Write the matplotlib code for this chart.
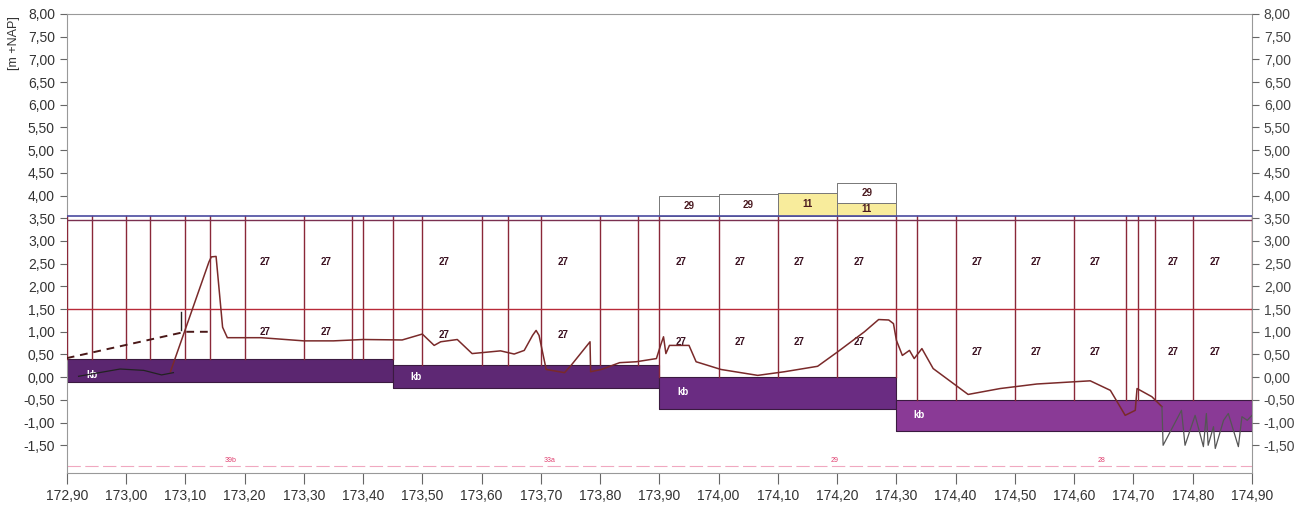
import matplotlib
matplotlib.use("Agg")
import matplotlib.pyplot as plt
from matplotlib.ticker import FuncFormatter
import numpy as np

plt.rcParams['font.family'] = ['Liberation Sans', 'DejaVu Sans']

# secties: grenzen, onderkant/bovenkant van de kb-laag
sec_x0 = [172.90, 173.45, 173.90, 174.30]
sec_x1 = [173.45, 173.90, 174.30, 174.90]
kb_bot = [-0.10, -0.24, -0.69, -1.18]
kb_top = [0.40, 0.26, 0.00, -0.50]
kb_kleur = ["#5b2670", "#5e2874", "#6a2c82", "#8a3a96"]
kb_label_x = [172.942, 173.489, 173.940, 174.338]
kb_label_y = [0.05, 0.01, -0.32, -0.84]

# verticale scheidingslijnen per sectie
vlijnen = [
    [172.90, 172.942, 173.00, 173.04, 173.10, 173.142, 173.20, 173.30, 173.382, 173.40, 173.45],
    [173.50, 173.60, 173.644, 173.70, 173.80, 173.864],
    [173.90, 174.00, 174.10, 174.20, 174.30],
    [174.335, 174.40, 174.50, 174.60, 174.687, 174.707, 174.737, 174.80, 174.90],
]

# labels "27"
lab_x = [173.235, 173.337, 173.536, 173.737, 173.936, 174.036, 174.136, 174.237,
         174.436, 174.536, 174.636, 174.766, 174.837]
lab_y_onder = [0.99, 0.99, 0.93, 0.93, 0.78, 0.78, 0.78, 0.78,
               0.55, 0.55, 0.55, 0.55, 0.55]
lab_y_boven = 2.53

# kaders boven de bovenlijn
box_x0 = [173.90, 174.00, 174.10, 174.20, 174.20]
box_bot = [3.56, 3.56, 3.56, 3.84, 3.56]
box_top = [3.99, 4.03, 4.06, 4.27, 3.84]
box_txt = ["29", "29", "11", "29", "11"]
box_kleur = ["white", "white", "#f8ec9c", "white", "#f8ec9c"]

# maaiveldprofiel
prof_x = [173.075, 173.140, 173.144, 173.152, 173.163, 173.171, 173.228, 173.30, 173.35,
          173.40, 173.466, 173.50, 173.52, 173.531, 173.559, 173.584, 173.632, 173.655,
          173.672, 173.686, 173.692, 173.697, 173.709, 173.740, 173.751, 173.783, 173.784,
          173.802, 173.833, 173.861, 173.895, 173.902, 173.907, 173.911, 173.917, 173.950,
          173.962, 174.004, 174.066, 174.111, 174.167, 174.201, 174.246, 174.270, 174.287,
          174.295, 174.300, 174.310, 174.322, 174.330, 174.343, 174.362, 174.421, 174.475,
          174.537, 174.627, 174.661, 174.686, 174.703, 174.706, 174.731, 174.748]
prof_y = [0.12, 2.54, 2.65, 2.66, 1.10, 0.87, 0.87, 0.80, 0.80,
          0.83, 0.82, 0.95, 0.70, 0.78, 0.83, 0.52, 0.58, 0.51,
          0.59, 0.92, 1.03, 0.92, 0.17, 0.10, 0.26, 0.78, 0.12,
          0.17, 0.32, 0.34, 0.41, 0.70, 0.89, 0.52, 0.70, 0.70,
          0.34, 0.17, 0.04, 0.12, 0.24, 0.56, 1.00, 1.27, 1.26,
          1.18, 0.81, 0.48, 0.59, 0.41, 0.63, 0.19, -0.38, -0.25,
          -0.15, -0.08, -0.29, -0.84, -0.73, -0.25, -0.43, -0.65]
staart_x = [174.748, 174.750, 174.781, 174.787, 174.804, 174.818, 174.823, 174.826,
            174.835, 174.838, 174.852, 174.860, 174.877, 174.883, 174.892, 174.900]
staart_y = [-0.65, -1.50, -0.73, -1.50, -0.84, -1.53, -0.80, -1.50,
            -1.09, -1.57, -0.95, -0.80, -1.53, -0.87, -0.95, -0.84]
zwart_x = [172.92, 172.99, 173.03, 173.06, 173.08]
zwart_y = [0.02, 0.18, 0.15, 0.05, 0.10]
stip_x = [172.90, 173.10, 173.145]
stip_y = [0.42, 1.00, 1.00]

# onderste labels
onder_txt = ["39b", "33a", "29", "28"]
onder_x = [173.177, 173.715, 174.196, 174.646]

fig = plt.figure(figsize=(13.11, 5.05), dpi=100)
ax = fig.add_axes([0.0509, 0.0634, 0.9041, 0.9089])

lijnkleur = "#8a2838"

for i in range(4):
    ax.fill_between([sec_x0[i], sec_x1[i]], kb_bot[i], kb_top[i], color=kb_kleur[i],
                    edgecolor="#3a1a40", linewidth=0.8, zorder=2)
    ax.text(kb_label_x[i], kb_label_y[i], "kb", color="white", fontsize=7,
            fontweight="bold", ha="center", va="center", zorder=5)
    for x in vlijnen[i]:
        ax.plot([x, x], [kb_top[i], 3.56], color=lijnkleur, linewidth=1.0, zorder=3)

for x0, b, t, s, c in zip(box_x0, box_bot, box_top, box_txt, box_kleur):
    ax.fill_between([x0, x0 + 0.10], b, t, color=c, edgecolor="#777777", linewidth=0.7, zorder=3)
    ax.text(x0 + 0.05, (b + t) / 2, s, fontsize=7, fontweight="bold",
            color="#4a1a20", ha="center", va="center", zorder=5)

ax.axhline(3.56, color="#4a4aa0", linewidth=1.2, zorder=4)
ax.axhline(3.46, color="#7a3050", linewidth=1.0, zorder=4)
ax.axhline(1.50, color="#b82a38", linewidth=1.0, zorder=4)

for x, yo in zip(lab_x, lab_y_onder):
    ax.text(x, lab_y_boven, "27", fontsize=7, fontweight="bold", color="#3a1020",
            ha="center", va="center", zorder=5)
    ax.text(x, yo, "27", fontsize=7, fontweight="bold", color="#3a1020",
            ha="center", va="center", zorder=5)

ax.plot(prof_x, prof_y, color="#7a2a2a", linewidth=1.1, zorder=6)
ax.plot(staart_x, staart_y, color="#555555", linewidth=0.9, zorder=6)
ax.plot(zwart_x, zwart_y, color="#222222", linewidth=0.9, zorder=6)
ax.plot(stip_x, stip_y, color="#4a1818", linewidth=1.4, linestyle=(0, (4, 3)), zorder=6)
ax.plot([173.093, 173.093], [1.03, 1.44], color="#222222", linewidth=1.0, zorder=6)

ax.axhline(-1.96, color="#f0a8c0", linewidth=0.8, linestyle=(0, (12, 4)), zorder=1)
for s, x in zip(onder_txt, onder_x):
    ax.text(x, -1.84, s, fontsize=5, color="#e04070", ha="center", va="center")

ax.set_xlim(172.90, 174.90)
ax.set_ylim(-2.11, 8.0)
ax.set_xticks(np.round(np.arange(172.90, 174.91, 0.10), 2))
ax.set_yticks(np.arange(-1.5, 8.01, 0.5))
komma = FuncFormatter(lambda v, p: f"{v:.2f}".replace(".", ","))
ax.xaxis.set_major_formatter(komma)
ax.yaxis.set_major_formatter(komma)
ax.tick_params(axis="both", colors="#666666", labelcolor="#333333", labelsize=10, length=5)
ax.tick_params(axis="x", length=8)
for sp in ax.spines.values():
    sp.set_color("#999999")
    sp.set_linewidth(0.8)

ax2 = ax.twinx()
ax2.set_ylim(ax.get_ylim())
ax2.set_yticks(np.arange(-1.5, 8.01, 0.5))
ax2.yaxis.set_major_formatter(komma)
ax2.tick_params(axis="y", colors="#666666", labelcolor="#444444", labelsize=10, length=5)
for sp in ax2.spines.values():
    sp.set_visible(False)

fig.text(0.011, 0.915, "[m +NAP]", rotation=90, fontsize=9, color="#333333",
         ha="center", va="center")

fig.savefig("out.png", dpi=100)
